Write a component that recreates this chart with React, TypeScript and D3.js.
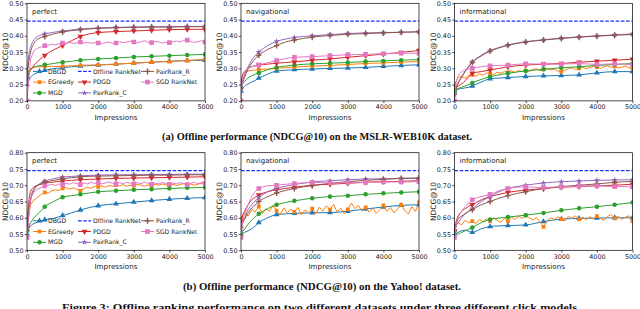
import { useEffect, useRef } from 'react';
import * as d3 from 'd3';

// impressions grids
const T = [0, 50, 100, 200, 300, 400, 500, 750, 1000, 1250, 1500, 2000, 2500, 3000, 3500, 4000, 4500, 5000];
const T_FINE = d3.range(0, 5001, 100);
const T_FLAT = [0, 5000];

const X_TICKS = [0, 1000, 2000, 3000, 4000, 5000];
const Y_TICKS_MSLR = [0.2, 0.25, 0.3, 0.35, 0.4, 0.45, 0.5];
const Y_TICKS_YAHOO = [0.5, 0.55, 0.6, 0.65, 0.7, 0.75, 0.8];

const METHODS = ['DBGD', 'EGreedy', 'MGD', 'Offline RankNet', 'PDGD', 'PairRank_C', 'PairRank_R', 'SGD RankNet'];
const COLORS = ['#1f77b4', '#ff7f0e', '#2ca02c', '#1a2cff', '#d62728', '#9467bd', '#8c564b', '#e377c2'];

// ---- MSLR-WEB10K, perfect
const mslrPerfDBGD = [.250, .262, .272, .282, .287, .290, .294, .299, .302, .305, .307, .310, .313, .316, .319, .322, .324, .325];
const mslrPerfEGreedy = [.280, .292, .298, .303, .305, .305, .306, .306, .306, .308, .309, .311, .313, .316, .319, .321, .324, .328];
const mslrPerfMGD = [.280, .292, .298, .304, .307, .309, .311, .315, .319, .322, .325, .329, .332, .335, .337, .339, .341, .343];
const mslrPerfOffline = [.445, .445];
const mslrPerfPDGD = [.270, .283, .294, .310, .321, .331, .340, .357, .370, .385, .398, .410, .413, .415, .417, .419, .420, .420];
const mslrPerfPRC = [.280, .340, .365, .388, .398, .403, .406, .411, .415, .418, .421, .424, .426, .427, .428, .428, .429, .429];
const mslrPerfPRR = [.270, .320, .350, .378, .390, .395, .398, .406, .412, .416, .419, .423, .425, .426, .427, .427, .428, .428];
const mslrPerfSGD = [.200, .330, .355, .362, .366, .370, .371, .374, .372, .376, .378, .377, .380, .376, .379, .381, .378, .380, .377, .379,
  .378, .376, .379, .381, .377, .378, .382, .379, .381, .384, .381, .378, .382, .385, .380, .379, .383, .381, .378, .380,
  .379, .382, .384, .381, .386, .387, .383, .380, .382, .385, .381];

// ---- MSLR-WEB10K, navigational
const mslrNavDBGD = [.230, .238, .245, .252, .258, .263, .270, .282, .292, .294, .296, .298, .300, .301, .303, .306, .309, .311];
const mslrNavEGreedy = [.260, .280, .288, .292, .294, .295, .296, .298, .300, .302, .304, .307, .309, .312, .315, .317, .319, .321];
const mslrNavMGD = [.240, .252, .260, .270, .277, .282, .286, .296, .303, .307, .310, .314, .316, .318, .321, .323, .325, .327];
const mslrNavOffline = [.445, .445];
const mslrNavPDGD = [.260, .280, .290, .300, .305, .308, .310, .313, .316, .318, .320, .325, .329, .334, .339, .344, .349, .355];
const mslrNavPRC = [.240, .262, .280, .305, .325, .340, .350, .370, .383, .390, .395, .400, .404, .407, .409, .410, .411, .413];
const mslrNavPRR = [.240, .258, .272, .298, .316, .330, .340, .358, .370, .381, .387, .396, .401, .405, .407, .409, .411, .412];
const mslrNavSGD = [.200, .270, .290, .300, .305, .308, .311, .317, .324, .330, .334, .336, .339, .342, .343, .345, .347, .346];

// ---- MSLR-WEB10K, informational
const mslrInfDBGD = [.230, .233, .236, .238, .240, .242, .246, .258, .268, .270, .272, .275, .277, .278, .280, .286, .290, .290];
const mslrInfEGreedy = [.250, .272, .275, .270, .278, .280, .276, .283, .279, .286, .284, .281, .288, .285, .290, .288, .292, .287, .293, .290,
  .294, .291, .296, .299, .293, .297, .300, .295, .298, .292, .290, .295, .299, .302, .297, .300, .304, .299, .303, .306,
  .304, .300, .305, .308, .303, .306, .301, .304, .307, .302, .300];
const mslrInfMGD = [.230, .235, .238, .242, .246, .250, .255, .266, .274, .280, .285, .292, .297, .302, .305, .309, .312, .315];
const mslrInfOffline = [.445, .445];
const mslrInfPDGD = [.240, .242, .245, .252, .262, .274, .285, .290, .295, .300, .305, .310, .313, .315, .319, .322, .325, .328];
const mslrInfPRC = [.220, .240, .255, .275, .292, .307, .320, .340, .355, .364, .372, .382, .388, .393, .397, .400, .403, .406];
const mslrInfPRR = [.220, .238, .253, .272, .290, .305, .318, .338, .353, .363, .371, .381, .387, .392, .396, .399, .402, .404];
const mslrInfSGD = [.200, .260, .275, .290, .295, .298, .300, .305, .308, .309, .310, .314, .313, .313, .315, .312, .314, .311];

// ---- Yahoo, perfect
const yahooPerfDBGD = [.550, .565, .575, .582, .587, .590, .594, .598, .607, .615, .624, .637, .643, .648, .653, .657, .660, .662];
const yahooPerfEGreedy = [.580, .640, .655, .663, .672, .678, .676, .683, .686, .684, .690, .693, .688, .692, .687, .683, .690, .694, .691, .696,
  .695, .698, .694, .699, .697, .700, .698, .702, .697, .700, .699, .703, .700, .697, .701, .699, .703, .700, .704, .701,
  .700, .703, .699, .702, .705, .701, .704, .700, .703, .706, .705];
const yahooPerfMGD = [.560, .575, .585, .600, .612, .622, .634, .650, .663, .668, .672, .680, .683, .686, .688, .690, .692, .693];
const yahooPerfOffline = [.745, .745];
const yahooPerfPDGD = [.570, .650, .680, .695, .700, .703, .706, .710, .713, .715, .717, .719, .721, .722, .723, .724, .725, .726];
const yahooPerfPRC = [.540, .610, .650, .685, .700, .708, .713, .720, .725, .727, .729, .731, .732, .732, .733, .733, .734, .734];
const yahooPerfPRR = [.560, .630, .660, .690, .700, .705, .709, .715, .720, .723, .726, .728, .729, .730, .731, .731, .732, .732];
const yahooPerfSGD = [.540, .660, .680, .688, .693, .698, .700, .703, .699, .704, .702, .706, .703, .708, .705, .702, .707, .704, .709, .705,
  .708, .704, .707, .710, .706, .704, .708, .705, .709, .706, .704, .708, .705, .709, .706, .703, .707, .704, .708, .705,
  .703, .707, .704, .708, .705, .702, .706, .709, .705, .708, .706];

// ---- Yahoo, navigational
const yahooNavDBGD = [.550, .552, .555, .560, .566, .575, .585, .600, .610, .612, .614, .615, .616, .620, .627, .633, .638, .640];
const yahooNavEGreedy = [.600, .615, .605, .625, .618, .635, .612, .628, .620, .638, .622, .610, .630, .615, .627, .618, .632, .609, .624, .615,
  .628, .612, .633, .620, .637, .625, .641, .618, .630, .612, .626, .645, .628, .638, .620, .632, .617, .629, .614, .625,
  .638, .620, .631, .615, .627, .640, .622, .612, .634, .619, .648];
const yahooNavMGD = [.550, .558, .565, .580, .593, .603, .612, .628, .640, .647, .652, .660, .665, .668, .672, .675, .678, .680];
const yahooNavOffline = [.745, .745];
const yahooNavPDGD = [.590, .610, .620, .640, .655, .663, .670, .680, .686, .690, .694, .700, .703, .706, .709, .711, .712, .714];
const yahooNavPRC = [.560, .585, .600, .625, .640, .652, .662, .680, .690, .697, .702, .710, .714, .717, .719, .720, .721, .722];
const yahooNavPRR = [.570, .585, .595, .615, .630, .640, .650, .665, .676, .684, .690, .699, .706, .711, .715, .718, .721, .722];
const yahooNavSGD = [.540, .590, .610, .640, .665, .680, .690, .698, .700, .703, .705, .709, .707, .708, .709, .710, .710, .711];

// ---- Yahoo, informational
const yahooInfDBGD = [.550, .552, .555, .560, .562, .558, .555, .566, .573, .575, .576, .578, .588, .596, .598, .599, .600, .600];
const yahooInfEGreedy = [.575, .585, .578, .592, .585, .590, .582, .595, .588, .597, .590, .600, .592, .586, .598, .590, .602, .595, .605, .598,
  .607, .600, .593, .601, .588, .572, .590, .600, .595, .603, .596, .590, .604, .598, .606, .595, .601, .594, .603, .597,
  .605, .598, .592, .604, .610, .598, .605, .595, .602, .606, .590];
const yahooInfMGD = [.560, .552, .550, .555, .560, .565, .570, .585, .595, .599, .602, .608, .615, .623, .629, .634, .640, .647];
const yahooInfOffline = [.745, .745];
const yahooInfPDGD = [.560, .590, .605, .620, .628, .635, .640, .655, .665, .672, .678, .685, .690, .694, .696, .698, .700, .703];
const yahooInfPRC = [.560, .575, .585, .600, .612, .620, .628, .650, .665, .680, .690, .700, .707, .711, .713, .715, .716, .717];
const yahooInfPRR = [.560, .580, .595, .605, .613, .620, .625, .640, .650, .660, .668, .680, .690, .696, .700, .704, .709, .712];
const yahooInfSGD = [.540, .580, .600, .620, .635, .645, .655, .665, .672, .683, .690, .695, .693, .695, .697, .698, .696, .695];

const xsFor = (v: number[]) => (v.length === 2 ? T_FLAT : v.length === T.length ? T : T_FINE);

const PANELS = [
  { row: 0, col: 0, title: 'perfect', ticks: Y_TICKS_MSLR, series: [mslrPerfDBGD, mslrPerfEGreedy, mslrPerfMGD, mslrPerfOffline, mslrPerfPDGD, mslrPerfPRC, mslrPerfPRR, mslrPerfSGD] },
  { row: 0, col: 1, title: 'navigational', ticks: Y_TICKS_MSLR, series: [mslrNavDBGD, mslrNavEGreedy, mslrNavMGD, mslrNavOffline, mslrNavPDGD, mslrNavPRC, mslrNavPRR, mslrNavSGD] },
  { row: 0, col: 2, title: 'informational', ticks: Y_TICKS_MSLR, series: [mslrInfDBGD, mslrInfEGreedy, mslrInfMGD, mslrInfOffline, mslrInfPDGD, mslrInfPRC, mslrInfPRR, mslrInfSGD] },
  { row: 1, col: 0, title: 'perfect', ticks: Y_TICKS_YAHOO, series: [yahooPerfDBGD, yahooPerfEGreedy, yahooPerfMGD, yahooPerfOffline, yahooPerfPDGD, yahooPerfPRC, yahooPerfPRR, yahooPerfSGD] },
  { row: 1, col: 1, title: 'navigational', ticks: Y_TICKS_YAHOO, series: [yahooNavDBGD, yahooNavEGreedy, yahooNavMGD, yahooNavOffline, yahooNavPDGD, yahooNavPRC, yahooNavPRR, yahooNavSGD] },
  { row: 1, col: 2, title: 'informational', ticks: Y_TICKS_YAHOO, series: [yahooInfDBGD, yahooInfEGreedy, yahooInfMGD, yahooInfOffline, yahooInfPDGD, yahooInfPRC, yahooInfPRR, yahooInfSGD] },
];

const COL_LEFT = [27, 241, 454.5];
const ROW_TOP = [3.3, 152.7];
const PW = 178;
const PH = 97.6;
const SANS = 'DejaVu Sans, sans-serif';
const SERIF = 'Liberation Serif, Times New Roman, serif';

// marker path for series i
function markerPath(i: number) {
  switch (i) {
    case 0: return d3.symbol(d3.symbolTriangle, 15)();
    case 1: return d3.symbol(d3.symbolSquare, 14)();
    case 2: return d3.symbol(d3.symbolCircle, 16)();
    case 4: return d3.symbol(d3.symbolTriangle, 15)();
    case 5: return d3.symbol(d3.symbolStar, 12)();
    case 6: return 'M-0.7,-3V3H0.7V-3ZM-2.6,-0.7V0.7H2.6V-0.7Z';
    case 7: return d3.symbol(d3.symbolSquare, 22)();
    default: return null;
  }
}

export default function App() {
  const svgRef = useRef<SVGSVGElement>(null);

  useEffect(() => {
    if (!svgRef.current) return;
    const svg = d3.select(svgRef.current);
    svg.selectAll('*').remove();

    PANELS.forEach((p, pi) => {
      const left = COL_LEFT[p.col];
      const top = ROW_TOP[p.row];
      const x = d3.scaleLinear().domain([0, 5000]).range([left, left + PW]);
      const y = d3.scaleLinear().domain([p.ticks[0], p.ticks[p.ticks.length - 1]]).range([top + PH, top]);

      const clipId = `clip${pi}`;
      svg.append('clipPath').attr('id', clipId)
        .append('rect').attr('x', left).attr('y', top).attr('width', PW).attr('height', PH);

      const g = svg.append('g');

      // axes
      const gx = g.append('g')
        .attr('transform', `translate(0,${top + PH})`)
        .call(d3.axisBottom(x).tickValues(X_TICKS).tickSize(2.2).tickPadding(1.8).tickFormat(d3.format('d')));
      const gy = g.append('g')
        .attr('transform', `translate(${left},0)`)
        .call(d3.axisLeft(y).tickValues(p.ticks).tickSize(2.2).tickPadding(1.3).tickFormat(d3.format('.2f')));
      [gx, gy].forEach(a => {
        a.select('.domain').remove();
        a.selectAll('line').attr('stroke', '#000').attr('stroke-width', 0.7);
        a.selectAll('text').attr('font-family', SANS).attr('font-size', 6.4).attr('fill', '#222');
      });

      g.append('text')
        .attr('x', left + PW / 2).attr('y', top + PH + 18.8)
        .attr('text-anchor', 'middle')
        .attr('font-family', SANS).attr('font-size', 7.2).attr('fill', '#222')
        .text('Impressions');

      g.append('text')
        .attr('transform', `translate(${left - 18.6},${top + PH / 2}) rotate(-90)`)
        .attr('text-anchor', 'middle')
        .attr('font-family', SANS).attr('font-size', 7.4).attr('fill', '#222')
        .text('NDCG@10');

      const plot = g.append('g').attr('clip-path', `url(#${clipId})`);

      p.series.forEach((vals, si) => {
        const xs = xsFor(vals);
        const pts: [number, number][] = vals.map((v, k) => [xs[k], v]);
        const line = d3.line<[number, number]>()
          .x(d => x(d[0])).y(d => y(d[1]))
          .curve(si === 3 || xs === T_FINE ? d3.curveLinear : d3.curveMonotoneX);
        plot.append('path')
          .datum(pts)
          .attr('fill', 'none')
          .attr('stroke', COLORS[si])
          .attr('stroke-width', si === 3 ? 1.3 : 1)
          .attr('stroke-dasharray', si === 3 ? '3.6,1.6' : null)
          .attr('d', line);

        const mp = markerPath(si);
        if (mp) {
          plot.selectAll(null)
            .data(pts.filter(d => d[0] % 500 === 0))
            .join('path')
            .attr('d', mp)
            .attr('transform', d => `translate(${x(d[0])},${y(d[1])})${si === 4 ? ' rotate(180)' : ''}`)
            .attr('fill', COLORS[si]);
        }
      });

      g.append('rect')
        .attr('x', left).attr('y', top).attr('width', PW).attr('height', PH)
        .attr('fill', 'none').attr('stroke', '#000').attr('stroke-width', 0.7);

      g.append('text')
        .attr('x', left + 5).attr('y', top + 10.5)
        .attr('font-family', SANS).attr('font-size', 7).attr('fill', '#222')
        .text(p.title);

      // legend on the first panel of each row
      if (p.col === 0) {
        const colX = [left + 6, left + 51, left + 114];
        const rowY = [top + PH - 29.5, top + PH - 18.8, top + PH - 8];
        METHODS.forEach((name, si) => {
          const cx = colX[Math.floor(si / 3)];
          const cy = rowY[si % 3];
          const lg = g.append('g');
          lg.append('line')
            .attr('x1', cx).attr('x2', cx + 13).attr('y1', cy).attr('y2', cy)
            .attr('stroke', COLORS[si])
            .attr('stroke-width', si === 3 ? 1.3 : 1)
            .attr('stroke-dasharray', si === 3 ? '3.6,1.6' : null);
          const mp = markerPath(si);
          if (mp) {
            lg.append('path').attr('d', mp)
              .attr('transform', `translate(${cx + 6.5},${cy})${si === 4 ? ' rotate(180)' : ''}`)
              .attr('fill', COLORS[si]);
          }
          lg.append('text')
            .attr('x', cx + 15).attr('y', cy).attr('dy', '0.35em')
            .attr('font-family', SANS).attr('font-size', 6.1).attr('fill', '#222')
            .text(name);
        });
      }
    });

    // captions
    const caption = (txt: string, x0: number, x1: number, yb: number, size: number) =>
      svg.append('text')
        .attr('x', x0).attr('y', yb)
        .attr('textLength', x1 - x0).attr('lengthAdjust', 'spacingAndGlyphs')
        .attr('font-family', SERIF).attr('font-weight', 'bold').attr('font-size', size).attr('fill', '#111')
        .text(txt);

    caption('(a) Offline performance (NDCG@10) on the MSLR-WEB10K dataset.', 162, 472, 140, 10);
    caption('(b) Offline performance (NDCG@10) on the Yahoo! dataset.', 183, 461, 290, 10);
    caption('Figure 3: Offline ranking performance on two different datasets under three different click models.', 62, 580, 311, 10.8);
  }, []);

  return (
    <svg
      ref={svgRef}
      width={640}
      height={309}
      style={{ position: 'absolute', left: 0, top: 0, background: '#fff' }}
    />
  );
}
